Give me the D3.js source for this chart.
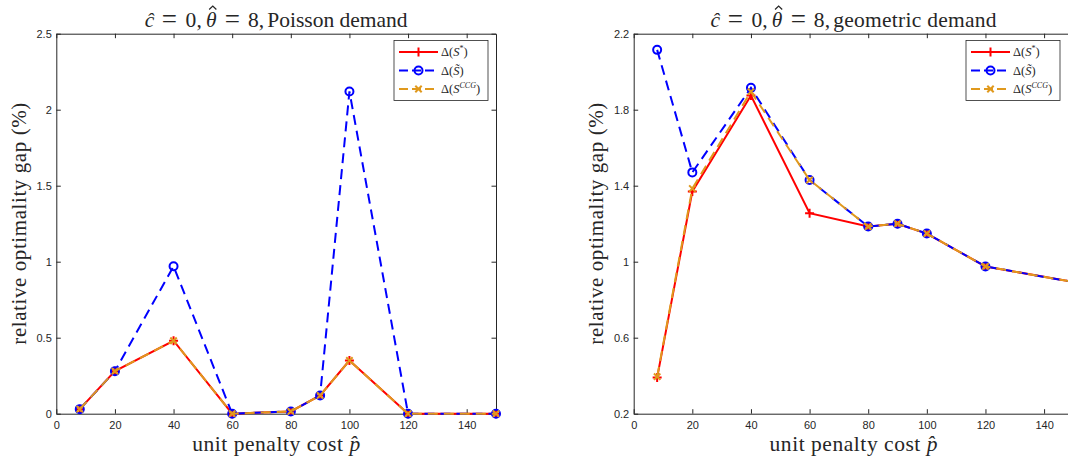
<!DOCTYPE html>
<html><head><meta charset="utf-8">
<script src="https://cdn.jsdelivr.net/npm/d3@7"></script>
<style>body{margin:0;background:#fff;} svg{display:block}</style>
</head><body>
<script>
// ---- data ----
const penalty = [8, 20, 40, 60, 80, 90, 100, 120, 150];
const poissonStar  = [0.03, 0.28, 0.48, 0, 0.015, 0.12, 0.35, 0, 0];
const poissonTilde = [0.03, 0.28, 0.97, 0, 0.015, 0.12, 2.12, 0, 0];
const poissonCCG   = [0.03, 0.28, 0.48, 0, 0.015, 0.12, 0.35, 0, 0];
const geomStar  = [0.39, 1.37, 1.875, 1.255, 1.185, 1.2, 1.148, 0.975, 0.893];
const geomTilde = [2.115, 1.47, 1.915, 1.43, 1.185, 1.2, 1.148, 0.975, 0.893];
const geomCCG   = [0.395, 1.385, 1.895, 1.43, 1.185, 1.2, 1.148, 0.975, 0.893];
const xTicks = [0, 20, 40, 60, 80, 100, 120, 140];
const poissonYTicks = [0, 0.5, 1, 1.5, 2, 2.5];
const geomYTicks = [0.2, 0.6, 1, 1.4, 1.8, 2.2];
const demandNames = ["Poisson demand", "geometric demand"];

const W = 1068, H = 459;
const svg = d3.select("body").append("svg").attr("width", W).attr("height", H);

const AX = "#262626";
const SERIF = "'Liberation Serif', 'Times New Roman', serif";
const SANS = "'Liberation Sans', Arial, Helvetica, sans-serif";
const colors = { star: "#ff0000", tilde: "#0000ff", ccg: "#E0991D" };

function serifText(g, size) {
  return g.append("text").style("font-family", SERIF).style("font-size", size + "px").attr("fill", AX);
}

function mathTitle(g, cx, demand, demandWidth) {
  const t = g.append("g");
  const FS = 21.5, BASE = 26.5;
  const put = (txt, x, opts = {}) => {
    const e = serifText(t, opts.size || FS).attr("x", x).attr("y", BASE + (opts.dy || 0))
      .attr("text-anchor", opts.anchor || "start").text(txt);
    if (opts.italic) e.style("font-style", "italic");
    return e;
  };
  put("\u0109", 0, { italic: true });
  put("=", 24.7, { anchor: "middle", size: 27, dy: 1.3 });
  put("0", 40.9);
  put(",", 51.8);
  const th = put("\u03B8", 61.3, { italic: true });
  const thw = th.node().getComputedTextLength();
  // circumflex accent over theta, drawn as a small chevron
  const hx = 61.3 + thw / 2 + 1.5;
  t.append("path").attr("d", `M${hx - 3.6},${BASE - 17}L${hx},${BASE - 20.5}L${hx + 3.6},${BASE - 17}`)
    .attr("fill", "none").attr("stroke", AX).attr("stroke-width", 1.2);
  put("=", 87.7, { anchor: "middle", size: 27, dy: 1.3 });
  put("8", 103.2);
  put(",", 114.1);
  put(demand, 122.6).attr("textLength", demandWidth).attr("lengthAdjust", "spacing");
  const total = 122.6 + demandWidth;
  t.attr("transform", `translate(${cx - total / 2},0)`);
}

function panel(cfg) {
  const g = svg.append("g");
  const x = d3.scaleLinear().domain([0, 150]).range([cfg.x0, cfg.x1]);
  const y = d3.scaleLinear().domain([cfg.yTicks[0], cfg.yTicks[cfg.yTicks.length - 1]]).range([413.7, 33.7]);

  const styleAxis = sel => {
    sel.selectAll("path.domain").attr("stroke", AX).attr("stroke-width", 1);
    sel.selectAll(".tick line").attr("stroke", AX).attr("stroke-width", 1);
    sel.selectAll(".tick text").attr("fill", AX).style("font-family", SANS).style("font-size", "11px");
  };
  g.append("g").attr("transform", `translate(0,${y.range()[0]})`)
    .call(d3.axisBottom(x).tickValues(xTicks).tickSizeInner(-4.5).tickSizeOuter(0).tickPadding(7.5).tickFormat(d3.format("d")))
    .call(styleAxis);
  g.append("g").attr("transform", `translate(0,${y.range()[1]})`)
    .call(d3.axisTop(x).tickValues(xTicks).tickSizeInner(-4.5).tickSizeOuter(0).tickFormat(""))
    .call(styleAxis);
  g.append("g").attr("transform", `translate(${cfg.x0},0)`)
    .call(d3.axisLeft(y).tickValues(cfg.yTicks).tickSizeInner(-4.5).tickSizeOuter(0).tickPadding(4.5).tickFormat(d => String(d)))
    .call(styleAxis);
  g.append("g").attr("transform", `translate(${cfg.x1},0)`)
    .call(d3.axisRight(y).tickValues(cfg.yTicks).tickSizeInner(-4.5).tickSizeOuter(0).tickFormat(""))
    .call(styleAxis);

  const series = [
    { vals: cfg.star, color: colors.star, dash: null, marker: "plus" },
    { vals: cfg.tilde, color: colors.tilde, dash: "10,6", marker: "circle" },
    { vals: cfg.ccg, color: colors.ccg, dash: "10,6", marker: "x" }
  ];
  const line = d3.line().x(d => x(d[0])).y(d => y(d[1]));
  series.forEach(s => {
    const pts = penalty.map((p, i) => [p, s.vals[i]]);
    g.append("path").attr("d", line(pts)).attr("fill", "none")
      .attr("stroke", s.color).attr("stroke-width", 2)
      .attr("stroke-dasharray", s.dash);
    pts.forEach(p => drawMarker(g, s.marker, x(p[0]), y(p[1]), s.color));
  });

  const cx = (cfg.x0 + cfg.x1) / 2;
  mathTitle(g, cx, cfg.demand, cfg.demandWidth);

  // x label
  const xl = serifText(g, 21.5).attr("x", cx).attr("y", 451).attr("text-anchor", "middle")
    .attr("textLength", 168).attr("lengthAdjust", "spacing");
  xl.append("tspan").text("unit penalty cost ");
  xl.append("tspan").style("font-style", "italic").text("p\u0302");

  // y label
  serifText(g, 21).attr("transform", `translate(${cfg.x0 - 30.5},${(413.7 + 33.7) / 2}) rotate(-90)`)
    .attr("text-anchor", "middle").attr("textLength", 242).attr("lengthAdjust", "spacing")
    .text("relative optimality gap (%)");

  // legend
  const lw = 94, lh = 60, lx = cfg.legendRight - lw, ly = 40.5;
  const lg = g.append("g").attr("transform", `translate(${lx},${ly})`);
  lg.append("rect").attr("width", lw).attr("height", lh).attr("fill", "#fff").attr("stroke", AX).attr("stroke-width", 0.8);
  const rows = [11.5, 30, 48.5];
  series.forEach((s, i) => {
    const ry = rows[i];
    lg.append("line").attr("x1", 5).attr("x2", 44).attr("y1", ry).attr("y2", ry)
      .attr("stroke", s.color).attr("stroke-width", 2).attr("stroke-dasharray", s.dash ? "9,4" : null);
    drawMarker(lg, s.marker, 24.5, ry, s.color);
    const tx = serifText(lg, 12.5).attr("x", 47).attr("y", ry + 4.3);
    tx.append("tspan").text("\u0394(");
    if (i === 0) {
      tx.append("tspan").style("font-style", "italic").text("S");
      tx.append("tspan").attr("dy", -5).style("font-size", "8px").text("*");
      tx.append("tspan").attr("dy", 5).text(")");
    } else if (i === 1) {
      tx.append("tspan").style("font-style", "italic").text("S\u0303");
      tx.append("tspan").text(")");
    } else {
      tx.append("tspan").style("font-style", "italic").text("S");
      tx.append("tspan").attr("dy", -5).style("font-size", "8px").style("font-style", "italic").text("CCG");
      tx.append("tspan").attr("dy", 5).text(")");
    }
  });
}

function drawMarker(g, type, cx, cy, color) {
  if (type === "circle") {
    g.append("circle").attr("cx", cx).attr("cy", cy).attr("r", 4).attr("fill", "none")
      .attr("stroke", color).attr("stroke-width", 2);
  } else if (type === "plus") {
    g.append("path").attr("d", `M${cx - 4.5},${cy}H${cx + 4.5}M${cx},${cy - 4.5}V${cy + 4.5}`)
      .attr("stroke", color).attr("stroke-width", 2).attr("fill", "none");
  } else {
    g.append("path").attr("d", `M${cx - 3.2},${cy - 3.2}L${cx + 3.2},${cy + 3.2}M${cx - 3.2},${cy + 3.2}L${cx + 3.2},${cy - 3.2}`)
      .attr("stroke", color).attr("stroke-width", 2).attr("fill", "none");
  }
}

panel({ x0: 56.3, x1: 496, yTicks: poissonYTicks, star: poissonStar, tilde: poissonTilde, ccg: poissonCCG,
        demand: demandNames[0], demandWidth: 140.3, legendRight: 488 });
panel({ x0: 633.7, x1: 1073.4, yTicks: geomYTicks, star: geomStar, tilde: geomTilde, ccg: geomCCG,
        demand: demandNames[1], demandWidth: 163.4, legendRight: 1060 });
</script>
</body></html>
